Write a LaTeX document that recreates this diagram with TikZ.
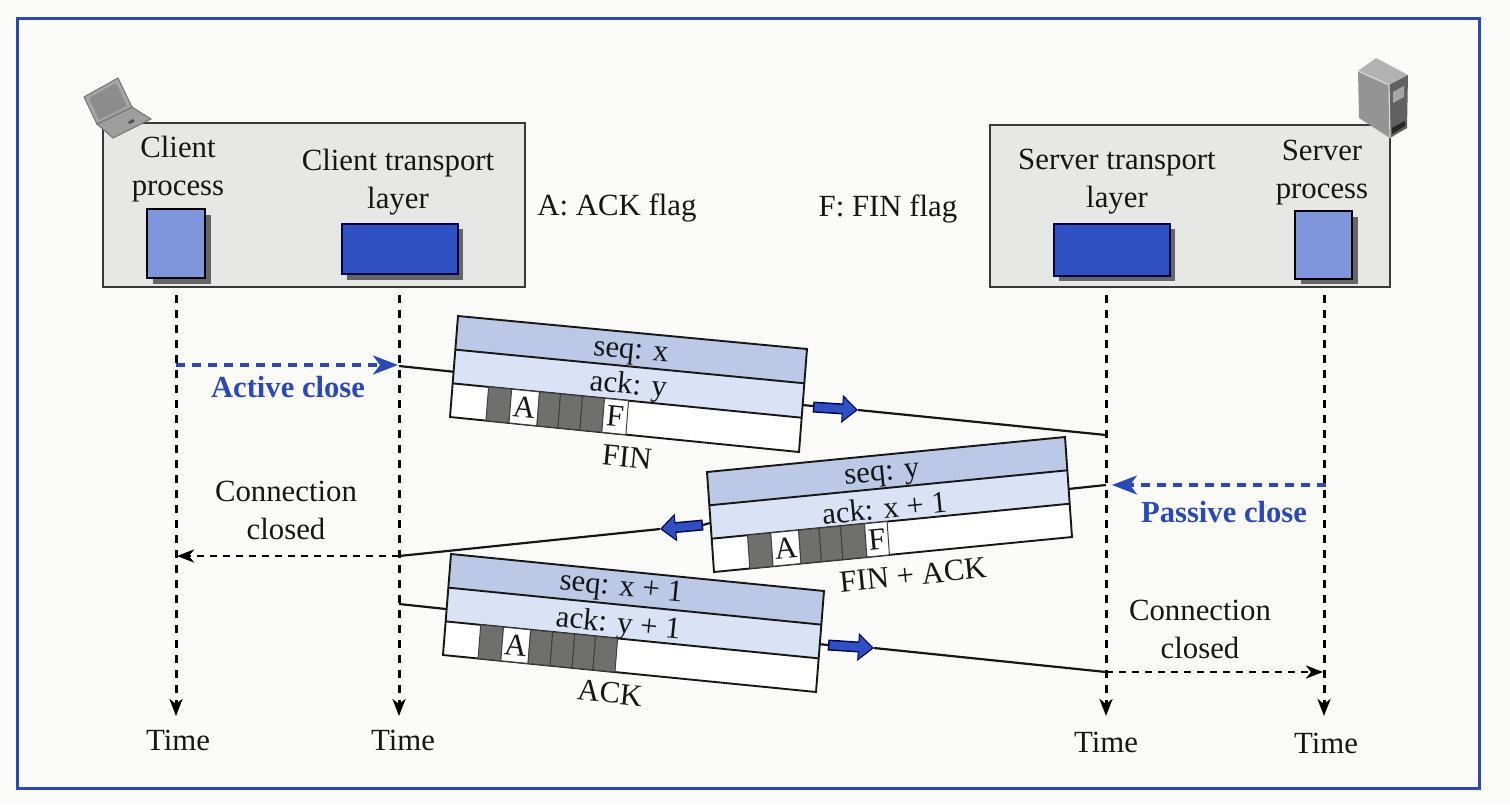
\documentclass[tikz,border=0pt]{standalone}
\usepackage{fontspec}
\setmainfont{Liberation Serif}
\usetikzlibrary{calc,arrows.meta}
\definecolor{paper}{HTML}{FBFBFA}
\definecolor{hostgray}{HTML}{E7E7E5}
\definecolor{seqblue}{HTML}{BBC8E6}
\definecolor{ackblue}{HTML}{DAE2F6}
\definecolor{procblue}{HTML}{8096DC}
\definecolor{transblue}{HTML}{2F50C0}
\definecolor{cellgray}{HTML}{6F6F6D}
\definecolor{inkblue}{HTML}{2A48B8}
\definecolor{framblue}{HTML}{2C48B8}
\definecolor{ink}{HTML}{161616}
\tikzset{
  x=1pt,y=-1pt,
  every node/.style={font=\fontsize{30.8}{38}\selectfont,text=ink,inner sep=0pt,align=center},
  hostbox/.style={draw=ink!85,fill=hostgray,line width=2pt,inner sep=0pt},
  procbox/.style={draw=black,fill=procblue,line width=2.6pt},
  transbox/.style={draw=black!70!blue,fill=transblue,line width=1.6pt},
  shade box/.style={fill=black!60},
  life/.style={draw=black,line width=3pt,dash pattern=on 8pt off 7pt,dash phase=8pt,-{Stealth[length=17pt,width=13pt,inset=5pt]}},
  bluedash/.style={draw=inkblue,line width=3.4pt,dash pattern=on 9pt off 7pt,-{Stealth[length=25pt,width=19pt,inset=7pt]}},
  blackdash/.style={draw=black,line width=2.8pt,dash pattern=on 7pt off 6pt,-{Stealth[length=17pt,width=13pt,inset=5pt]}},
  wire/.style={draw=ink,line width=2.2pt},
  pkline/.style={draw=ink,line width=1.9pt},
  bluetag/.style={font=\fontsize{30.6}{36}\selectfont\bfseries,text=inkblue},
  iconedge/.style={draw=black!55,line width=1pt},
}
\newcommand{\seqnudge}{-5pt}
\newcommand{\acknudge}{-3pt}
% prefix, TL, TR, BL, BR, rotation, text position along the packet, seq, ack
\newcommand{\packet}[9]{%
  \coordinate (#1-tl) at (#2);
  \coordinate (#1-tr) at (#3);
  \coordinate (#1-bl) at (#4);
  \coordinate (#1-br) at (#5);
  \coordinate (#1-al) at ($(#1-tl)!.333!(#1-bl)$);
  \coordinate (#1-ar) at ($(#1-tr)!.333!(#1-br)$);
  \coordinate (#1-cl) at ($(#1-tl)!.667!(#1-bl)$);
  \coordinate (#1-cr) at ($(#1-tr)!.667!(#1-br)$);
  \fill[white] (#1-cl) -- (#1-cr) -- (#1-br) -- (#1-bl) -- cycle;
  \fill[seqblue] (#1-tl) -- (#1-tr) -- (#1-ar) -- (#1-al) -- cycle;
  \fill[ackblue] (#1-al) -- (#1-ar) -- (#1-cr) -- (#1-cl) -- cycle;
  \node[rotate=#6,yshift=\seqnudge] (#1-seq) at ($($(#1-tl)!.5!(#1-al)$)!#7!($(#1-tr)!.5!(#1-ar)$)$) {#8};
  \node[rotate=#6,yshift=\acknudge] (#1-ack) at ($($(#1-al)!.5!(#1-cl)$)!#7!($(#1-ar)!.5!(#1-cr)$)$) {#9};
}
\newcommand{\packetedges}[1]{%
  \draw[pkline] (#1-tl) -- (#1-tr) -- (#1-br) -- (#1-bl) -- cycle;
  \draw[pkline] (#1-al) -- (#1-ar);
  \draw[pkline] (#1-cl) -- (#1-cr);
}
% prefix, from, to, rotation, letter (empty = grey)
\newcommand{\flagcell}[5]{%
  \ifx&#5&
    \filldraw[fill=cellgray,draw=black!75,line width=1pt] ($(#1-cl)!#2!(#1-cr)$) -- ($(#1-cl)!#3!(#1-cr)$) -- ($(#1-bl)!#3!(#1-br)$) -- ($(#1-bl)!#2!(#1-br)$) -- cycle;
  \else
    \filldraw[fill=white,draw=black!75,line width=1pt] ($(#1-cl)!#2!(#1-cr)$) -- ($(#1-cl)!#3!(#1-cr)$) -- ($(#1-bl)!#3!(#1-br)$) -- ($(#1-bl)!#2!(#1-br)$) -- cycle;
    \node[rotate=#4,font=\fontsize{31}{33}\selectfont] (#1-flag#5) at ($($(#1-cl)!.5!(#1-bl)$)!{(#2+#3)/2}!($(#1-cr)!.5!(#1-br)$)$) {#5};
  \fi
}
% name, tail, tip
\newcommand{\blockarrow}[3]{%
  \coordinate (#1-t) at (#2);
  \coordinate (#1-h) at (#3);
  \draw[draw=black!65!blue,line width=11pt,-{Triangle[length=16pt,width=27pt]}] (#1-t) -- (#1-h);
  \draw[draw=transblue,line width=8pt,shorten >=2pt,shorten <=1.5pt,-{Triangle[length=13pt,width=22pt]}] (#1-t) -- (#1-h);
}
\begin{document}
\begin{tikzpicture}
\useasboundingbox (0,0) rectangle (1510,804);
\fill[paper] (0,0) rectangle (1510,804);
\draw[framblue,line width=3pt] (17,18) rectangle (1479,788);

% hosts
\node[hostbox,minimum width=422pt,minimum height=164pt] (cl) at (314,205) {};
\node[hostbox,minimum width=400pt,minimum height=162pt] (sv) at (1190,206) {};

% host inner boxes with their shadows
\fill[shade box] (153,215) rectangle (211,284);
\node[procbox,minimum width=58pt,minimum height=69pt] (cp) at (176,243.5) {};
\fill[shade box] (347,229) rectangle (463,280);
\node[transbox,minimum width=116pt,minimum height=50pt] (ct) at (400,249) {};
\fill[shade box] (1059,229) rectangle (1175,281);
\node[transbox,minimum width=116pt,minimum height=52pt] (st) at (1112,250) {};
\fill[shade box] (1301,217) rectangle (1358,284);
\node[procbox,minimum width=57pt,minimum height=68pt] (sp) at (1323.5,245) {};

% host labels
\node (cplabel) at (178,169) {Client\\process};
\node (ctlabel) at (398,182) {Client transport\\layer};
\node (stlabel) at (1117,182) {Server transport\\layer};
\node (splabel) at (1322,173) {Server\\process};
\node (aflag) at (617,208) {A: ACK flag};
\node (fflag) at (888,209) {F: FIN flag};

% laptop
\filldraw[fill=black!38,iconedge] (97,124) -- (132,107) -- (151,119) -- (113,138) -- cycle;
\filldraw[fill=black!35,iconedge] (84,97) -- (118,78) -- (132,107) -- (97,124) -- cycle;
\fill[black!45] (89,98) -- (116,83) -- (127,106) -- (99,120) -- cycle;
\fill[black!70] (128,122) -- (133,119) -- (135,121) -- (130,124) -- cycle;

% server
\fill[black!30] (1358,71) -- (1376,58) -- (1408,75) -- (1389,85) -- cycle;
\fill[black!42] (1358,71) -- (1389,85) -- (1390,138) -- (1359,118) -- cycle;
\fill[black!62] (1389,85) -- (1408,75) -- (1407,128) -- (1390,138) -- cycle;
\draw[white!85!black,line width=1.2pt] (1358,71) -- (1389,85) -- (1390,138);
\fill[black!35] (1393,92) -- (1404,86) -- (1404,97) -- (1393,103) -- cycle;
\fill[black!85] (1392,128) -- (1405,121) -- (1405,126) -- (1392,134) -- cycle;

% end points on the life lines
\coordinate (cpend) at (176,716);
\coordinate (ctend) at (399,716);
\coordinate (stend) at (1106,716);
\coordinate (spend) at (1324,716);

% time labels
\node (t1) at (178,740) {Time};
\node (t2) at (403,740) {Time};
\node (t3) at (1106,742) {Time};
\node (t4) at (1326,743) {Time};

% life lines
\draw[life] (cpend |- cl.south) -- (cpend);
\draw[life] (ctend |- cl.south) -- (ctend);
\draw[life] (stend |- sv.south) -- (stend);
\draw[life] (spend |- sv.south) -- (spend);

% connector anchors
\coordinate (ac0) at (176,365);
\coordinate (ac1) at (398,365);
\coordinate (f0) at (399,366);
\coordinate (f1) at (1106,435);
\coordinate (pc0) at (1326,485);
\coordinate (pc1) at (1112,485);
\coordinate (g0) at (1106,485);
\coordinate (g1) at (399,556);
\coordinate (cc1) at (177,556);
\coordinate (h0) at (399,604);
\coordinate (h1) at (1106,672);
\coordinate (cc2) at (1323,672);

% dashed event arrows
\draw[bluedash] (ac0) -- (ac1);
\draw[bluedash] (pc0) -- (pc1);
\draw[blackdash] (g1) -- (cc1);
\draw[blackdash] (h1) -- (cc2);

% FIN segment
\draw[wire] (f0) -- (456,372);
\draw[wire] (802,405) -- (813,406);
\blockarrow{ba}{813,407}{858,410}
\draw[wire] (ba-h) -- (f1);
\packet{p}{458,316}{807,349}{450,417}{799,452}{-5.4}{.5}{seq: x}{ack: y}
\packetedges{p}
\flagcell{p}{.103}{.169}{-5.4}{}
\flagcell{p}{.169}{.249}{-5.4}{A}
\flagcell{p}{.249}{.309}{-5.4}{}
\flagcell{p}{.309}{.372}{-5.4}{}
\flagcell{p}{.372}{.435}{-5.4}{}
\flagcell{p}{.435}{.504}{-5.4}{F}
\node[rotate=-5.4] (finlabel) at (627,457) {FIN};

% FIN + ACK segment
\draw[wire] (g0) -- (1068,489);
\draw[wire] (710,523) -- (703,525);
\blockarrow{bb}{703,525}{660,529}
\draw[wire] (bb-h) -- (g1);
\packet{q}{707,472}{1065,437}{714,572}{1072,537}{5.6}{.485}{seq: y}{ack: x + 1}
\packetedges{q}
\flagcell{q}{.100}{.165}{5.6}{}
\flagcell{q}{.165}{.243}{5.6}{A}
\flagcell{q}{.243}{.300}{5.6}{}
\flagcell{q}{.300}{.360}{5.6}{}
\flagcell{q}{.360}{.427}{5.6}{}
\flagcell{q}{.427}{.490}{5.6}{F}
\node[rotate=5.6] (finacklabel) at (913,575) {FIN + ACK};

% ACK segment
\draw[wire] (h0) -- (446,609);
\draw[wire] (818,644) -- (828,645);
\blockarrow{bc}{828,645}{874,648}
\draw[wire] (bc-h) -- (h1);
\renewcommand{\seqnudge}{-1pt}
\renewcommand{\acknudge}{-4pt}
\packet{r}{451,554}{824,591}{443,655}{816,692}{-5.7}{.46}{seq: x + 1}{ack: y + 1}
\packetedges{r}
\flagcell{r}{.094}{.155}{-5.7}{}
\flagcell{r}{.155}{.228}{-5.7}{A}
\flagcell{r}{.228}{.287}{-5.7}{}
\flagcell{r}{.287}{.346}{-5.7}{}
\flagcell{r}{.346}{.402}{-5.7}{}
\flagcell{r}{.402}{.461}{-5.7}{}
\node[rotate=-5.7] (acklabel) at (610,693) {ACK};

% free labels
\node[bluetag] (active) at (288,387) {Active close};
\node[bluetag] (passive) at (1224,512) {Passive close};
\node (conn1) at (286,510) {Connection\\closed};
\node (conn2) at (1200,629) {Connection\\closed};
\end{tikzpicture}
\end{document}
